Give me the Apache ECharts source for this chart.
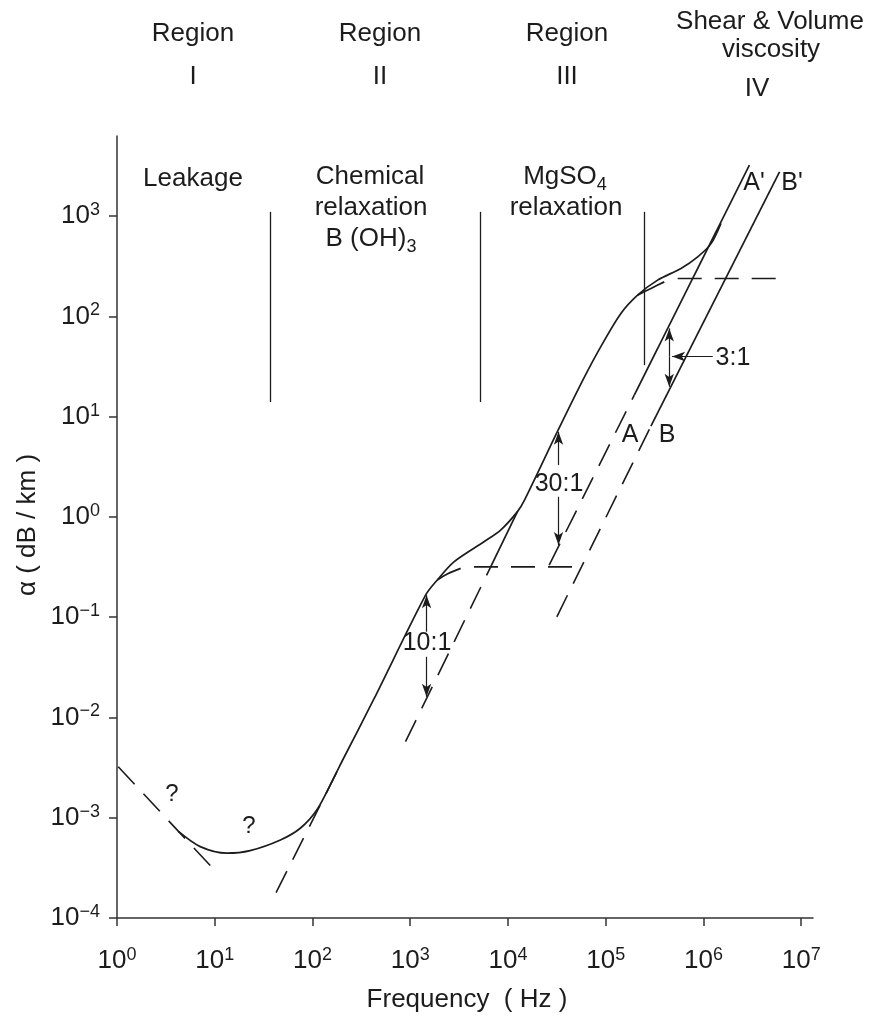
<!DOCTYPE html>
<html>
<head>
<meta charset="utf-8">
<title>Sound absorption in sea water</title>
<script src="https://cdn.jsdelivr.net/npm/echarts@6/dist/echarts.min.js"></script>
<style>
  html, body { margin: 0; padding: 0; background: #fff; }
  #main { width: 869px; height: 1016px; }
</style>
</head>
<body>
<div id="main"></div>
<script>
// values: [frequency (Hz), alpha (dB/km)]
var xTicks = [1, 10, 100, 1e3, 1e4, 1e5, 1e6, 1e7];
var yTicks = [1e-4, 1e-3, 1e-2, 1e-1, 1, 10, 100, 1e3];
var xMax = 1.32e7;
var yMax = 6300;

var totalCurve = [
  [4.25, 7.3e-4], [7.1, 5.15e-4], [13.3, 4.43e-4], [23, 4.7e-4], [47, 6.0e-4],
  [75, 7.85e-4], [111, 1.2e-3], [165, 2.5e-3], [208, 3.92e-3], [424, 0.0152],
  [1435, 0.166], [1890, 0.235], [2800, 0.357], [5680, 0.566], [8410, 0.74],
  [12500, 1.13], [14800, 1.48], [32000, 7.08], [60100, 24.5], [89100, 50],
  [142900, 107], [211800, 163], [339600, 230], [588800, 301], [873000, 393],
  [1.2e6, 535], [1.51e6, 845]
];
var leakageDashed = [[1.03, 3.23e-3], [10.5, 2.84e-4]];
var boricDashed = [[42.4, 1.79e-4], [193, 3.36e-3]];
var boricBranch = [[1890, 0.235], [2390, 0.27], [3280, 0.307]];
var boricPlateau = [[4490, 0.318], [55600, 0.318]];
var mgDashed = [[895, 5.74e-3], [6650, 0.318]];
var mgSolid = [[6650, 0.318], [12500, 1.13]];
var mgBranch = [[211800, 163], [290400, 190], [397200, 221]];
var mgPlateau = [[544900, 239], [6.24e6, 239]];
var lineADashed = [[26400, 0.331], [195900, 16.4]];
var lineASolid = [[195900, 16.4], [2.95e6, 3220]];
var lineBDashed = [[31600, 0.101], [290000, 8.05]];
var lineBSolid = [[290000, 8.05], [6.0e6, 2770]];

// region dividers: [frequency, top alpha, bottom alpha]
var dividers = [[36.6, 1104, 14], [5250, 1104, 14], [247800, 1104, 32.7]];
// ratio arrows: [frequency, from alpha, to alpha (arrow head)]
var ratioArrows = [
  [1469, 0.0716, 0.166], [1469, 0.0403, 0.0161],
  [32880, 3.29, 7.06], [32880, 1.59, 0.525],
  [446700, 39.8, 75.9], [446700, 39.8, 19.9]
];
var leader31 = [[1.245e6, 39.6], [476400, 39.9]];

var ink = '#1c1c1c';
var fam = '"Liberation Sans", Arial, Helvetica, sans-serif';

function curve(name, data, dashed, smooth) {
  return {
    name: name, type: 'line', data: data, symbol: 'none', showSymbol: false,
    smooth: smooth || false, silent: true, clip: false, animation: false,
    lineStyle: { color: ink, width: dashed ? 1.6 : 1.7, type: dashed ? [24, 13] : 'solid' }
  };
}

function powLabel(v) {
  var e = Math.log10(v);
  var r = Math.round(e);
  if (Math.abs(e - r) > 1e-6) return '';
  return '{b|10}{s|' + (r < 0 ? '\u2212' + (-r) : r) + '}';
}
var richPow = {
  b: { fontSize: 26, fontFamily: fam, color: ink, lineHeight: 30 },
  s: { fontSize: 18, fontFamily: fam, color: ink, verticalAlign: 'top', lineHeight: 18 }
};

function txt(t, x, y, size) {
  return { type: 'text', x: x, y: y, silent: true,
    style: { text: t, fill: ink, fontSize: size || 26, fontFamily: fam, align: 'center', verticalAlign: 'middle' } };
}
function richTxt(t, x, y) {
  return { type: 'text', x: x, y: y, silent: true,
    style: { text: t, fill: ink, fontSize: 26, fontFamily: fam, align: 'center', verticalAlign: 'middle',
      rich: { a: { fontSize: 26, fontFamily: fam, fill: ink, lineHeight: 34 },
              sub: { fontSize: 18, fontFamily: fam, fill: ink, verticalAlign: 'bottom', lineHeight: 18 } } } };
}

// annotation layout (pixels)
var labels = [
  txt('Region', 193, 34), txt('I', 193, 77),
  txt('Region', 380, 34), txt('II', 380, 77),
  txt('Region', 567, 34), txt('III', 567, 77),
  txt('Shear & Volume', 770, 22), txt('viscosity', 771, 50), txt('IV', 757, 89),
  txt('Leakage', 193, 179),
  txt('Chemical', 370, 177), txt('relaxation', 371, 208),
  richTxt('{a|B (OH)}{sub|3}', 371, 239),
  richTxt('{a|MgSO}{sub|4}', 565, 177), txt('relaxation', 566, 208),
  txt("A'", 754, 183, 25), txt("B'", 792, 183, 25),
  txt('A', 630, 435, 25), txt('B', 667, 435, 25),
  txt('30:1', 559, 484, 25), txt('10:1', 427, 643, 25), txt('3:1', 733, 358, 25),
  txt('?', 172, 794, 24), txt('?', 249, 826, 24),
  txt('Frequency  ( Hz )', 467, 1000, 26),
  { type: 'text', x: 28, y: 525, rotation: Math.PI / 2, silent: true,
    style: { text: '\u03b1 ( dB / km )', fill: ink, fontSize: 26, fontFamily: fam, align: 'center', verticalAlign: 'middle' } }
];

var markData = [];
dividers.forEach(function (d) {
  markData.push([{ coord: [d[0], d[1]], symbol: 'none' }, { coord: [d[0], d[2]], symbol: 'none' }]);
});
ratioArrows.forEach(function (a) {
  markData.push([{ coord: [a[0], a[1]], symbol: 'none', lineStyle: { width: 1.2 } }, { coord: [a[0], a[2]], symbol: 'arrow' }]);
});
markData.push([{ coord: leader31[0], symbol: 'none', lineStyle: { width: 1.2, curveness: 0.12 } },
               { coord: leader31[1], symbol: 'arrow' }]);

var axisStyle = { color: '#333', width: 1.5 };

var chart = echarts.init(document.getElementById('main'), null, { renderer: 'canvas' });
chart.setOption({
  animation: false,
  backgroundColor: '#fff',
  grid: { left: 117, right: 56, top: 136, bottom: 98 },
  xAxis: {
    type: 'log', logBase: 10, min: xTicks[0], max: xMax,
    axisLine: { show: true, lineStyle: axisStyle },
    axisTick: { show: true, length: 8, lineStyle: axisStyle, customValues: xTicks },
    axisLabel: { margin: 28, formatter: powLabel, rich: richPow },
    splitLine: { show: false }
  },
  yAxis: {
    type: 'log', logBase: 10, min: yTicks[0], max: yMax,
    axisLine: { show: true, lineStyle: axisStyle },
    axisTick: { show: true, length: 8, lineStyle: axisStyle, customValues: yTicks },
    axisLabel: { margin: 17, formatter: powLabel, rich: richPow },
    splitLine: { show: false }
  },
  graphic: labels,
  series: [
    curve('total', totalCurve, false, 0.3),
    curve('leakage', leakageDashed, true),
    curve('boric f2', boricDashed, true),
    curve('boric branch', boricBranch, false, 0.3),
    curve('boric plateau', boricPlateau, true),
    curve('MgSO4 f2', mgDashed, true),
    curve('MgSO4 f2 solid', mgSolid, false),
    curve('MgSO4 branch', mgBranch, false, 0.3),
    curve('MgSO4 plateau', mgPlateau, true),
    curve('A', lineADashed, true),
    curve("A'", lineASolid, false),
    curve('B', lineBDashed, true),
    curve("B'", lineBSolid, false),
    {
      type: 'line', data: [], silent: true,
      markLine: {
        silent: true, animation: false, symbol: ['none', 'none'], symbolSize: [7, 13],
        label: { show: false },
        lineStyle: { color: ink, width: 1.3, type: 'solid' },
        emphasis: { disabled: true },
        data: markData
      }
    }
  ]
});
</script>
</body>
</html>
